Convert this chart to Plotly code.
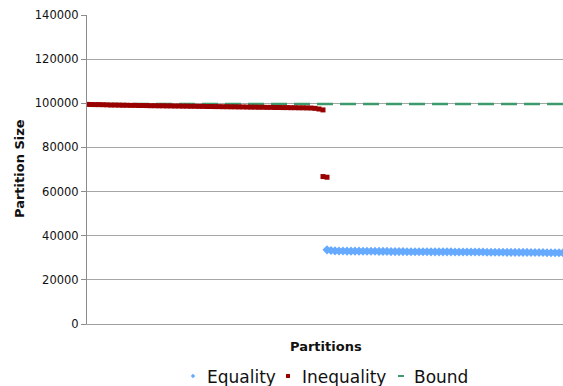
import plotly.graph_objects as go

# Partition indices
ineq_partitions = list(range(0, 60))
eq_partitions = list(range(60, 120))

inequality = [
    99500, 99450, 99400, 99400, 99350, 99300,
    99200, 99200, 99150, 99100, 99100, 99050, 99050, 99000, 99000, 98950,
    98900, 98900, 98850, 98850, 98800, 98800, 98750, 98750, 98700, 98700, 98650, 98650,
    98600, 98600, 98550, 98550, 98500, 98500, 98450, 98450, 98400, 98400, 98350, 98350, 98300,
    98250, 98250, 98200, 98200, 98150, 98150, 98100, 98100, 98050, 98050,
    98000, 98000, 97950, 97950, 97900, 97850, 97700, 97400,
    97000,
]
ineq_outlier_partitions = [59, 60]
ineq_outliers = [66800, 66500]

equality = [
    33600, 33300, 33150,
    33050, 33050, 33000, 33000, 33000, 33000, 32950, 32950, 32950, 32950, 32900, 32900, 32900,
    32800, 32800, 32800, 32800, 32750, 32750, 32750, 32750, 32750, 32750, 32700, 32700,
    32700, 32700, 32700, 32700, 32650, 32650, 32650, 32650, 32650, 32650, 32600, 32600,
    32500, 32500, 32500, 32500, 32500, 32450, 32450, 32450, 32450, 32450, 32450, 32400,
    32400, 32400, 32400,
    32300, 32300, 32300, 32250, 32250,
]

bound_partitions = [0, 119]
bound = [99700, 99700]

y_ticks = [0, 20000, 40000, 60000, 80000, 100000, 120000, 140000]
series_names = ["Equality", "Inequality", "Bound"]

BLUE = "#66aaff"
RED = "#990000"
GREEN = "#3c9a6c"
FONT = "DejaVu Sans"

W, H = 563, 386
ML, MT, MB = 87, 15, 62
PW, PH = W - ML, H - MT - MB


def px_x(X):  # page pixel -> paper x
    return (X - ML) / PW


def px_y(Y):  # page pixel -> paper y
    return (H - MB - Y) / PH


fig = go.Figure()

fig.add_trace(go.Scatter(
    x=bound_partitions, y=bound, mode="lines", name=series_names[2],
    line=dict(color=GREEN, width=2.5, dash="16px,7px"),
    hoverinfo="skip",
))
fig.add_trace(go.Scatter(
    x=ineq_partitions + ineq_outlier_partitions, y=inequality + ineq_outliers,
    mode="markers", name=series_names[1],
    marker=dict(symbol="square", size=5, color=RED, line=dict(width=0)),
))
fig.add_trace(go.Scatter(
    x=eq_partitions, y=equality, mode="markers", name=series_names[0],
    marker=dict(symbol="diamond", size=7, color=BLUE, line=dict(width=0)),
))

# hand-built legend (symbols as shapes, names as annotations)
LY = 376
shapes = []
cx, r = 193, 2.2
shapes.append(dict(type="path", xref="paper", yref="paper", line=dict(width=0), fillcolor=BLUE,
                   path=f"M {px_x(cx - r)} {px_y(LY)} L {px_x(cx)} {px_y(LY - r)} "
                        f"L {px_x(cx + r)} {px_y(LY)} L {px_x(cx)} {px_y(LY + r)} Z"))
cx, r = 288, 2
shapes.append(dict(type="rect", xref="paper", yref="paper", line=dict(width=0), fillcolor=RED,
                   x0=px_x(cx - r), x1=px_x(cx + r), y0=px_y(LY + r), y1=px_y(LY - r)))
shapes.append(dict(type="line", xref="paper", yref="paper", line=dict(width=2, color=GREEN),
                   x0=px_x(398), x1=px_x(404), y0=px_y(LY), y1=px_y(LY)))

annotations = [
    dict(text="<b>Partitions</b>", xref="paper", yref="paper",
         x=px_x(326), y=px_y(346), xanchor="center", yanchor="middle",
         showarrow=False, font=dict(size=13, family=FONT, color="#111111")),
    dict(text="<b>Partition Size</b>", xref="paper", yref="paper",
         x=px_x(19), y=px_y(169), xanchor="center", yanchor="middle", textangle=-90,
         showarrow=False, font=dict(size=13, family=FONT, color="#111111")),
]
for name, X in zip(series_names, [205, 300, 412]):
    annotations.append(dict(text=name, xref="paper", yref="paper", x=px_x(X), y=px_y(LY + 1),
                            xanchor="left", yanchor="middle", showarrow=False,
                            font=dict(size=17, family=FONT, color="#111111")))

fig.update_layout(
    width=W, height=H,
    margin=dict(l=ML, r=0, t=MT, b=MB, autoexpand=False),
    paper_bgcolor="white", plot_bgcolor="white",
    font=dict(family=FONT, color="#111111"),
    showlegend=False,
    shapes=shapes,
    annotations=annotations,
)

fig.update_xaxes(
    range=[0, 119], showgrid=False, zeroline=False, automargin=False,
    showticklabels=False, ticks="",
    showline=True, linecolor="#a0a0a0", linewidth=1,
)
fig.update_yaxes(
    range=[0, 140000], tickvals=y_ticks, ticktext=[str(v) for v in y_ticks],
    showgrid=True, gridcolor="#a6a6a6", gridwidth=1, zeroline=False, automargin=False,
    showline=True, linecolor="#8c8c8c", linewidth=1,
    ticks="outside", ticklen=5, tickcolor="#8c8c8c",
    tickfont=dict(size=11.5, family=FONT, color="#111111"),
)

fig.write_html(
    "out.html",
    config={"displayModeBar": False},
    post_script="document.body.style.margin='0';document.body.style.overflow='hidden';",
)
